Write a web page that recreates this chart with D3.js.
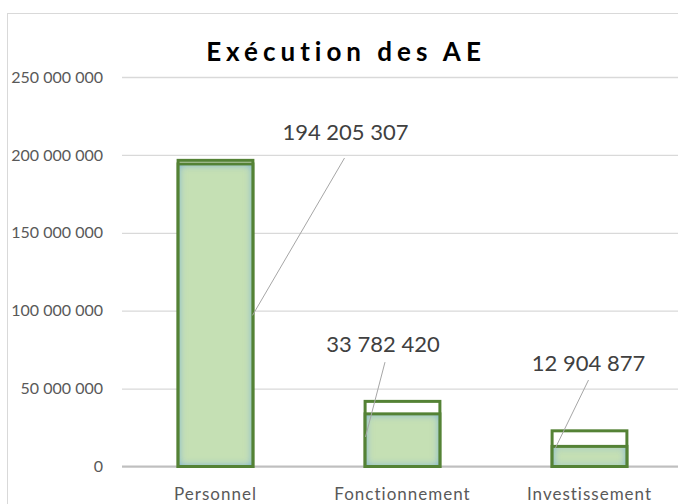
<!DOCTYPE html>
<html>
<head>
<meta charset="utf-8">
<script src="https://cdn.jsdelivr.net/npm/d3@7"></script>
<style>
  body { margin: 0; background: #fff; }
  svg { display: block; font-family: Lato, "Open Sans", sans-serif; }
</style>
</head>
<body>
<svg id="chart"></svg>
<script>
// categories and values (AE = autorisations d'engagement)
var categories = ["Personnel", "Fonctionnement", "Investissement"];
var budget = [196500000, 41800000, 22900000];     // outlined bars (ouvert)
var executed = [194205307, 33782420, 12904877];   // filled bars (exécuté)
var yTicks = [0, 50000000, 100000000, 150000000, 200000000, 250000000];
var title = "Exécution des AE";

var width = 678;
var height = 504;

var svg = d3.select("#chart")
            .attr("width", width)
            .attr("height", height);

var fr = d3.formatLocale({ decimal: ",", thousands: " ", grouping: [3], currency: ["", " €"] });
var fmt = fr.format(",");

var plot = { left: 122, right: 683, top: 77, bottom: 466.5 };

var xScale = d3.scaleBand()
               .domain(categories)
               .range([plot.left, plot.right])
               .paddingInner(0.6)
               .paddingOuter(0.3);

var yScale = d3.scaleLinear()
               .domain([0, 250000000])
               .range([plot.bottom, plot.top]);

// chart frame
svg.append("rect")
   .attr("x", 7.5).attr("y", 13.5)
   .attr("width", 700).attr("height", 520)
   .attr("fill", "none")
   .attr("stroke", "#d9d9d9");

// soft bluish inner glow for the executed bars
var glow = svg.append("defs").append("filter")
              .attr("id", "innerGlow")
              .attr("x", "-10%").attr("y", "-10%")
              .attr("width", "120%").attr("height", "120%");
glow.append("feFlood").attr("flood-color", "#8cbccc").attr("result", "flood");
glow.append("feComposite").attr("in", "flood").attr("in2", "SourceAlpha")
    .attr("operator", "out").attr("result", "outside");
glow.append("feGaussianBlur").attr("in", "outside").attr("stdDeviation", 4).attr("result", "blur");
glow.append("feComponentTransfer").attr("in", "blur").attr("result", "blurStrong")
    .append("feFuncA").attr("type", "linear").attr("slope", 1.7);
glow.append("feComposite").attr("in", "blurStrong").attr("in2", "SourceAlpha")
    .attr("operator", "in").attr("result", "edge");
var merge = glow.append("feMerge");
merge.append("feMergeNode").attr("in", "SourceGraphic");
merge.append("feMergeNode").attr("in", "edge");

// y axis + gridlines
var yAxis = svg.append("g")
   .attr("transform", "translate(" + plot.left + ",0)")
   .call(d3.axisLeft(yScale)
           .tickValues(yTicks)
           .tickSize(-(plot.right - plot.left))
           .tickPadding(19)
           .tickFormat(fmt));

yAxis.select(".domain").remove();
yAxis.selectAll(".tick line")
     .attr("stroke", "#d9d9d9")
     .attr("stroke-width", 1.3);
yAxis.selectAll(".tick text")
     .attr("fill", "#595959")
     .style("font-size", "16px")
     .style("font-family", "Lato, sans-serif");

// zero line
svg.append("line")
   .attr("x1", plot.left).attr("x2", plot.right)
   .attr("y1", yScale(0)).attr("y2", yScale(0))
   .attr("stroke", "#bfbfbf")
   .attr("stroke-width", 2);

// x axis labels
var xAxis = svg.append("g")
   .attr("transform", "translate(0," + yScale(0) + ")")
   .call(d3.axisBottom(xScale).tickSize(0).tickPadding(21));
xAxis.select(".domain").remove();
xAxis.selectAll(".tick text")
     .attr("fill", "#595959")
     .style("font-size", "17px")
     .style("letter-spacing", "1px")
     .style("font-family", "Lato, sans-serif");

var bw = xScale.bandwidth();

// outlined bars (ouvert)
svg.selectAll("rect.budget")
  .data(categories)
  .enter()
  .append("rect")
  .attr("class", "budget")
  .attr("x", d => xScale(d))
  .attr("y", (d, i) => yScale(budget[i]))
  .attr("width", bw)
  .attr("height", (d, i) => yScale(0) - yScale(budget[i]))
  .attr("fill", "#fff")
  .attr("stroke", "#548235")
  .attr("stroke-width", 3);

// filled bars (exécuté): fill with glow, then the outline on top
svg.selectAll("rect.execFill")
  .data(categories)
  .enter()
  .append("rect")
  .attr("class", "execFill")
  .attr("x", d => xScale(d))
  .attr("y", (d, i) => yScale(executed[i]))
  .attr("width", bw)
  .attr("height", (d, i) => yScale(0) - yScale(executed[i]))
  .attr("fill", "#c5e0b4")
  .attr("filter", "url(#innerGlow)");

svg.selectAll("rect.exec")
  .data(categories)
  .enter()
  .append("rect")
  .attr("class", "exec")
  .attr("x", d => xScale(d))
  .attr("y", (d, i) => yScale(executed[i]))
  .attr("width", bw)
  .attr("height", (d, i) => yScale(0) - yScale(executed[i]))
  .attr("fill", "none")
  .attr("stroke", "#548235")
  .attr("stroke-width", 3);

// data labels with leader lines (offsets from the bar centre, in px and axis units)
var labelLayout = [
  { dx: 130, at: 209600000, lx: 129, ly: 198000000, ex: 37, ey: 97000000 },
  { dx: -19.5, at: 73500000, lx: -17.5, ly: 67000000, ex: -37, ey: 19000000 },
  { dx: -1, at: 61300000, lx: -1, ly: 55500000, ex: -34, ey: 12000000 }
];

var cx = d => xScale(d) + bw / 2;

svg.selectAll("line.leader")
  .data(categories)
  .enter()
  .append("line")
  .attr("class", "leader")
  .attr("x1", (d, i) => cx(d) + labelLayout[i].lx)
  .attr("y1", (d, i) => yScale(labelLayout[i].ly))
  .attr("x2", (d, i) => cx(d) + labelLayout[i].ex)
  .attr("y2", (d, i) => yScale(labelLayout[i].ey))
  .attr("stroke", "#a6a6a6")
  .attr("stroke-width", 1);

svg.selectAll("text.val")
  .data(categories)
  .enter()
  .append("text")
  .attr("class", "val")
  .attr("x", (d, i) => cx(d) + labelLayout[i].dx)
  .attr("y", (d, i) => yScale(labelLayout[i].at))
  .attr("text-anchor", "middle")
  .attr("fill", "#404040")
  .style("font-size", "22px")
  .text((d, i) => fmt(executed[i]));

// title
svg.append("text")
   .attr("x", 346)
   .attr("y", 61)
   .attr("text-anchor", "middle")
   .attr("fill", "#000")
   .style("font-size", "26px")
   .style("font-weight", "bold")
   .style("letter-spacing", "5px")
   .text(title);
</script>
</body>
</html>
